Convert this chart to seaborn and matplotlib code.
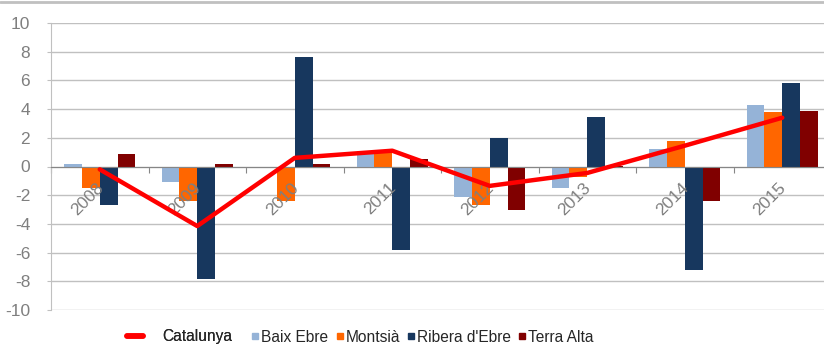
import matplotlib
matplotlib.use("Agg")
import matplotlib.pyplot as plt
from matplotlib.lines import Line2D
import numpy as np
import pandas as pd
import seaborn as sns

years = ["2008", "2009", "2010", "2011", "2012", "2013", "2014", "2015"]
regions = ["Baix Ebre", "Montsià", "Ribera d'Ebre", "Terra Alta"]
baix_ebre = [0.15, -1.05, -0.1, 1.1, -2.15, -1.5, 1.25, 4.3]
montsia = [-1.5, -2.4, -2.4, 1.05, -2.7, -0.7, 1.8, 3.8]
ribera = [-2.7, -7.85, 7.6, -5.8, 2.0, 3.45, -7.2, 5.85]
terra_alta = [0.9, 0.15, 0.15, 0.5, -3.05, 0.05, -2.4, 3.9]
catalunya = [-0.2, -4.15, 0.6, 1.1, -1.35, -0.45, 1.45, 3.4]
colors = ["#95B3D7", "#FF6600", "#17375E", "#800000"]

df = pd.DataFrame({
    "year": np.repeat(years, 4),
    "region": regions * len(years),
    "value": np.ravel(np.column_stack([baix_ebre, montsia, ribera, terra_alta])),
})

sns.set_style("white")
plt.rcParams["font.family"] = ["Liberation Sans", "DejaVu Sans"]
plt.rcParams["axes.unicode_minus"] = False

W, H = 824, 347
fig = plt.figure(figsize=(W / 100, H / 100), dpi=100)
ax = fig.add_axes([51 / W, 1 - 310 / H, 780 / W, 287 / H])

# bars, one hue per comarca
sns.barplot(data=df, x="year", y="value", hue="region", order=years,
            hue_order=regions, palette=colors, width=0.73, dodge=True,
            linewidth=0, saturation=1, legend=False, ax=ax, zorder=2)
# Catalunya line at the category centres
sns.lineplot(x=np.arange(len(years)), y=catalunya, color="#FF0000",
             linewidth=3.2, ax=ax, zorder=5)

ax.set_xlim(-0.5, len(years) - 0.5)
ax.set_ylim(-10, 10)
ax.set_yticks(range(-10, 11, 2))
ax.yaxis.grid(True, color="#C0C0C0", linewidth=1)
ax.set_axisbelow(True)
ax.set_xlabel("")
ax.set_ylabel("")

for s in ["top", "right"]:
    ax.spines[s].set_visible(False)
ax.spines["left"].set_color("#C0C0C0")
ax.spines["bottom"].set_position(("data", 0))
ax.spines["bottom"].set_color("#868686")
ax.spines["bottom"].set_zorder(3)

# ticks between categories, year labels drawn over the bars, under the line
ax.set_xticks(np.arange(len(years) + 1) - 0.5)
ax.set_xticklabels([])
ax.tick_params(axis="x", length=4, color="#868686", direction="out",
               bottom=True)
for i, yr in enumerate(years):
    ax.annotate(yr, (i, 0), xytext=(-3, -10), textcoords="offset points",
                rotation=45, ha="right", va="top", rotation_mode="anchor",
                fontsize=12.5, color="#7F7F7F", zorder=4,
                annotation_clip=False)
ax.tick_params(axis="y", length=3, color="#C0C0C0", pad=12,
               labelsize=12.5, labelcolor="#7F7F7F", left=True)

# legend: the line entry and the bar entries
h1 = [Line2D([], [], color="#FF0000", linewidth=4)]
leg1 = fig.legend(h1, ["Catalunya"], loc="center left",
                  bbox_to_anchor=(127 / W, 1 - 337 / H), frameon=False,
                  fontsize=11.2, handlelength=1.03, handletextpad=1.25,
                  borderaxespad=0, borderpad=0)
h2 = [Line2D([], [], marker="s", linestyle="none", markersize=5,
             markerfacecolor=c, markeredgecolor=c) for c in colors]
fig.legend(h2, regions, loc="center left", ncol=4,
           bbox_to_anchor=(251 / W, 1 - 337 / H), frameon=False,
           fontsize=11.2, handlelength=0.55, handletextpad=0.1,
           columnspacing=0.45, borderaxespad=0, borderpad=0)
fig.add_artist(leg1)

# thin frame line at the top of the picture
fig.add_artist(Line2D([0, 1], [1 - 1.5 / H, 1 - 1.5 / H], color="#C0C0C0",
                      linewidth=2, transform=fig.transFigure))

fig.savefig("out.png", dpi=100)
